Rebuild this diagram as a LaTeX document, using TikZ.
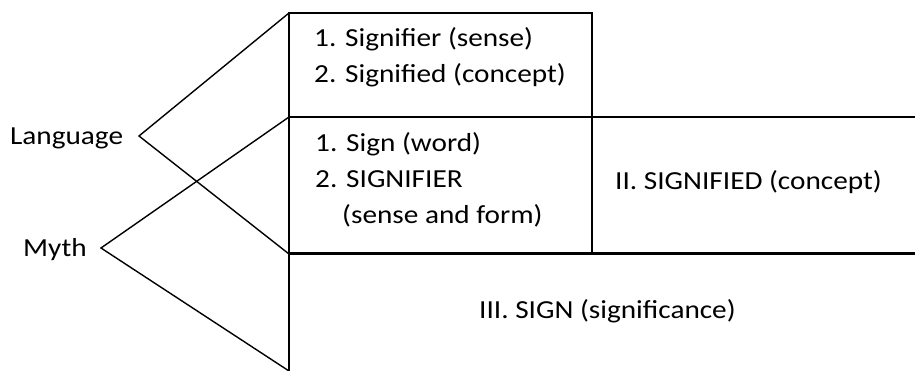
\documentclass[tikz,border=0pt]{standalone}
\usepackage{fontspec}
\setmainfont[FakeStretch=1.125]{Carlito}
\begin{document}
\begin{tikzpicture}[x=1pt,y=-1pt,
  txt/.style={anchor=base west,inner sep=0pt,font=\fontsize{26}{36}\selectfont},
  thin/.style={line width=1.4pt,line cap=rect},
  thick/.style={line width=3pt}]
\useasboundingbox (0,0) rectangle (915,371);
% grid coordinates
\coordinate (tl) at (289,13);
\coordinate (tr) at (592,13);
\coordinate (ml) at (289,117);
\coordinate (mm) at (592,117);
\coordinate (mr) at (915,117);
\coordinate (bl) at (289,254);
\coordinate (bm) at (592,254);
\coordinate (br) at (915,254);
\coordinate (ll) at (289,371);
\coordinate (langapex) at (139,136);
\coordinate (mythapex) at (101,248);
% table lines
\draw[thin] (tl) -- (tr) -- (bm);
\draw[thin] (ml) -- (mr);
\draw[thin] (tl) -- (ll);
\draw[thick] (bl) -- (br);
% brackets
\draw[thin,line cap=butt] (tl) -- (langapex) -- (bl);
\draw[thin,line cap=butt] (ml) -- (mythapex) -- (ll);
% texts
\node[txt] (lang) at (10,145) {Language};
\node[txt] (myth) at (23,257) {Myth};
\node[txt] (a1) at (314,47) {1. Signifier (sense)};
\node[txt] (a2) at (314,83) {2. Signified (concept)};
\node[txt] (b1) at (315,152) {1. Sign (word)};
\node[txt] (b2) at (315,188) {2. SIGNIFIER};
\node[txt] (b3) at (342,224) {(sense and form)};
\node[txt] (c) at (615,190) {II. SIGNIFIED (concept)};
\node[txt] (d) at (479,318) {III. SIGN (significance)};
\end{tikzpicture}
\end{document}
